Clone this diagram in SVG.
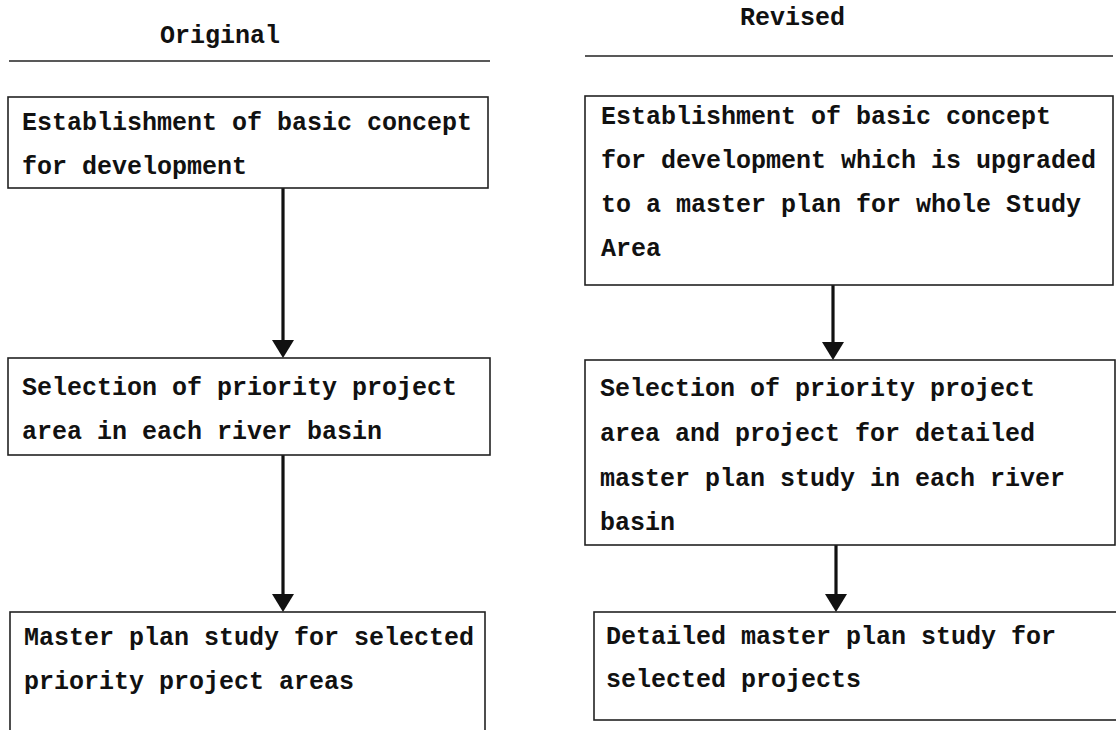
<svg xmlns="http://www.w3.org/2000/svg" width="1116" height="730" viewBox="0 0 1116 730">
<defs>
<style>
.t{font-family:"Liberation Mono","DejaVu Sans Mono",monospace;font-size:25px;font-weight:bold;fill:#111}
.h{font-family:"Liberation Mono","DejaVu Sans Mono",monospace;font-size:25px;font-weight:bold;fill:#111}
.b{fill:#fff;stroke:#222;stroke-width:1.6}
.u{stroke:#222;stroke-width:1.6}
.c{stroke:#111;stroke-width:3.2;fill:none}
.a{fill:#111}
</style>
</defs>
<rect width="1116" height="730" fill="#fff"/>
<g id="headers">
<text class="h" x="160" y="43">Original</text>
<line class="u" x1="9" y1="61" x2="490" y2="61"/>
<text class="h" x="740" y="25">Revised</text>
<line class="u" x1="585" y1="56" x2="1113" y2="56"/>
</g>
<g id="connectors">
<line class="c" x1="283" y1="188" x2="283" y2="342"/>
<polygon class="a" points="272,340 294,340 283,358"/>
<line class="c" x1="283" y1="455" x2="283" y2="596"/>
<polygon class="a" points="272,594 294,594 283,612"/>
<line class="c" x1="833" y1="285" x2="833" y2="344"/>
<polygon class="a" points="822,342 844,342 833,360"/>
<line class="c" x1="836" y1="545" x2="836" y2="596"/>
<polygon class="a" points="825,594 847,594 836,612"/>
</g>
<g id="o1">
<rect class="b" x="8" y="97" width="480" height="91"/>
<text class="t" x="22" y="130">Establishment of basic concept</text>
<text class="t" x="22" y="174">for development</text>
</g>
<g id="o2">
<rect class="b" x="8" y="358" width="482" height="97"/>
<text class="t" x="22" y="395">Selection of priority project</text>
<text class="t" x="22" y="439">area in each river basin</text>
</g>
<g id="o3">
<rect class="b" x="10" y="612" width="475" height="140"/>
<text class="t" x="24" y="645">Master plan study for selected</text>
<text class="t" x="24" y="689">priority project areas</text>
</g>
<g id="r1">
<rect class="b" x="585" y="96" width="528" height="189"/>
<text class="t" x="601" y="124">Establishment of basic concept</text>
<text class="t" x="601" y="168">for development which is upgraded</text>
<text class="t" x="601" y="212">to a master plan for whole Study</text>
<text class="t" x="601" y="256">Area</text>
</g>
<g id="r2">
<rect class="b" x="585" y="360" width="530" height="185"/>
<text class="t" x="600" y="396">Selection of priority project</text>
<text class="t" x="600" y="441">area and project for detailed</text>
<text class="t" x="600" y="486">master plan study in each river</text>
<text class="t" x="600" y="530">basin</text>
</g>
<g id="r3">
<rect class="b" x="594" y="612" width="540" height="108"/>
<text class="t" x="606" y="644">Detailed master plan study for</text>
<text class="t" x="606" y="687">selected projects</text>
</g>
</svg>
